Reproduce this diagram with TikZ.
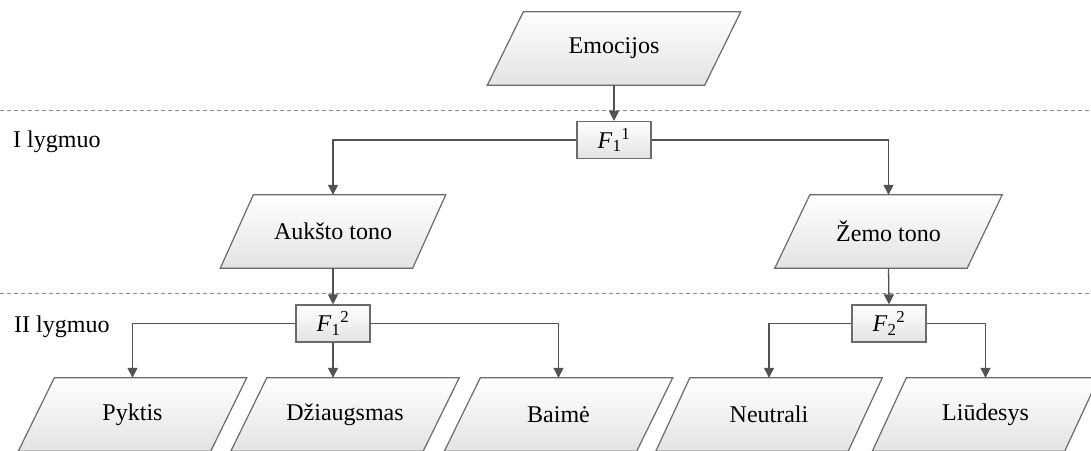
\documentclass[tikz,border=0pt]{standalone}
\usepackage{fontspec}
\setmainfont{Liberation Serif}
\usetikzlibrary{arrows.meta,backgrounds}

\tikzset{
  txt/.style={font=\fontsize{24}{28}\selectfont},
  lbl/.style={txt, inner sep=0pt, anchor=base west},
  ptext/.style={txt, minimum height=73pt, inner sep=0pt},
  pshape/.style={draw=black!58, line width=1.2pt, top color=white, bottom color=black!11},
  fbox/.style={txt, draw=black!58, line width=1.2pt, top color=white, bottom color=black!11,
    minimum width=74pt, minimum height=37pt, inner sep=0pt},
  conn/.style={draw=black!68, line width=1.3pt, -{Triangle[length=10pt,width=10pt]}},
  levelline/.style={draw=black!45, line width=1pt, dash pattern=on 4pt off 3pt}
}

% parallelogram: name, x, y, side length, half skew, text
\newcommand\pnode[6]{%
  \node[ptext, minimum width=#4pt] (#1) at (#2,#3) {#6};
  \begin{pgfonlayer}{background}
    \path[pshape] ([xshift=#5pt]#1.north west) -- ([xshift=#5pt]#1.north east)
      -- ([xshift=-#5pt]#1.south east) -- ([xshift=-#5pt]#1.south west) -- cycle;
  \end{pgfonlayer}%
}
\newcommand\fsym[2]{\textit{F}\textsubscript{#1}\textsuperscript{#2}}

\begin{document}
\begin{tikzpicture}[x=1pt, y=-1pt]
  \useasboundingbox (0,0) rectangle (1091,450);

  % level separators and labels
  \coordinate (l1a) at (0,110);   \coordinate (l1b) at (1091,110);
  \coordinate (l2a) at (0,293);   \coordinate (l2b) at (1091,293);
  \path[levelline] (l1a) -- (l1b);
  \path[levelline] (l2a) -- (l2b);
  \node[lbl] (lev1) at (13,147) {I lygmuo};
  \node[lbl] (lev2) at (14,332) {II lygmuo};

  % emotion classes
  \pnode{emo}{614}{48.5}{217}{18}{Emocijos}
  \pnode{high}{333}{231.5}{192}{16.5}{Aukšto tono}
  \pnode{low}{888.5}{231.5}{192}{17.5}{Žemo tono}
  \pnode{anger}{132.5}{414.5}{192}{18}{Pyktis}
  \pnode{joy}{345}{414.5}{192}{18}{Džiaugsmas}
  \pnode{fear}{558.5}{414.5}{192}{18}{Baimė}
  \pnode{neutral}{769}{414.5}{192}{17}{Neutrali}
  \pnode{sad}{985.5}{414.5}{192}{17}{Liūdesys}

  % classifiers
  \node[fbox] (f11) at (614,140) {\fsym{1}{1}};
  \node[fbox] (f12) at (333,323.5) {\fsym{1}{2}};
  \node[fbox] (f22) at (889,323.5) {\fsym{2}{2}};

  % connectors
  \draw[conn] (emo.south) -- (f11.north);
  \draw[conn] (f11.west) -| (high.north);
  \draw[conn] (f11.east) -| (low.north);
  \draw[conn] (high.south) -- (f12.north);
  \draw[conn] (low.south) -- (f22.north);
  \draw[conn] (f12.west) -| (anger.north);
  \draw[conn] (f12.south) -- (f12.south |- joy.north);
  \draw[conn] (f12.east) -| (fear.north);
  \draw[conn] (f22.west) -| (neutral.north);
  \draw[conn] (f22.east) -| (sad.north);
\end{tikzpicture}
\end{document}
